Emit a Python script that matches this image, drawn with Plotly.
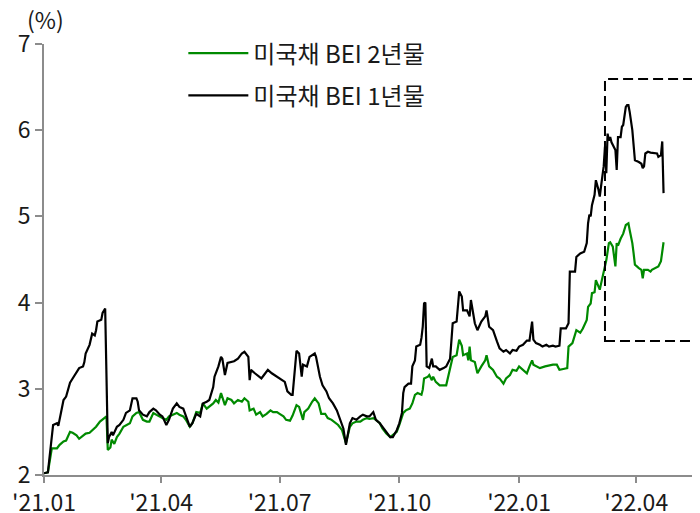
import plotly.graph_objects as go

# 미국채 BEI 1년물 (black)
bei1_dates = [
 "2021-01-01","2021-01-04","2021-01-05","2021-01-07","2021-01-08","2021-01-11","2021-01-12","2021-01-14","2021-01-16","2021-01-18",
 "2021-01-21","2021-01-23","2021-01-26","2021-01-28","2021-01-31","2021-02-01","2021-02-02","2021-02-05","2021-02-07","2021-02-09",
 "2021-02-10","2021-02-11","2021-02-14","2021-02-15","2021-02-17","2021-02-19","2021-02-20","2021-02-22","2021-02-23","2021-02-26",
 "2021-02-28","2021-03-03","2021-03-05","2021-03-08","2021-03-10","2021-03-13","2021-03-14","2021-03-15","2021-03-18","2021-03-21",
 "2021-03-23","2021-03-26","2021-03-28","2021-03-31","2021-04-02","2021-04-05","2021-04-07","2021-04-10","2021-04-13","2021-04-15",
 "2021-04-18","2021-04-20","2021-04-23","2021-04-25","2021-04-28","2021-05-01","2021-05-03","2021-05-06","2021-05-08","2021-05-11",
 "2021-05-12","2021-05-15","2021-05-17","2021-05-18","2021-05-20","2021-05-22","2021-05-25","2021-05-27","2021-05-30","2021-06-02",
 "2021-06-04","2021-06-07","2021-06-08","2021-06-09","2021-06-12","2021-06-14","2021-06-17","2021-06-19","2021-06-22","2021-06-25",
 "2021-06-27","2021-06-30","2021-07-02","2021-07-05","2021-07-07","2021-07-10","2021-07-11","2021-07-13","2021-07-14","2021-07-16",
 "2021-07-18","2021-07-19","2021-07-22","2021-07-24","2021-07-28","2021-07-29","2021-08-01","2021-08-03","2021-08-06","2021-08-08",
 "2021-08-11","2021-08-14","2021-08-16","2021-08-19","2021-08-21","2021-08-24","2021-08-26","2021-08-29","2021-09-01","2021-09-03",
 "2021-09-06","2021-09-08","2021-09-11","2021-09-12","2021-09-13","2021-09-16","2021-09-18","2021-09-21","2021-09-24","2021-09-26",
 "2021-09-29","2021-10-01","2021-10-03","2021-10-04","2021-10-05","2021-10-08","2021-10-10","2021-10-11","2021-10-13","2021-10-14",
 "2021-10-17","2021-10-18","2021-10-19","2021-10-20","2021-10-21","2021-10-22","2021-10-24","2021-10-26","2021-10-27","2021-10-29",
 "2021-11-01","2021-11-04","2021-11-06","2021-11-09","2021-11-10","2021-11-11","2021-11-14","2021-11-15","2021-11-16","2021-11-18",
 "2021-11-19","2021-11-22","2021-11-23","2021-11-24","2021-11-25","2021-11-27","2021-11-28","2021-11-30","2021-12-03","2021-12-06",
 "2021-12-07","2021-12-09","2021-12-12","2021-12-15","2021-12-17","2021-12-20","2021-12-22","2021-12-25","2021-12-27","2021-12-30",
 "2022-01-01","2022-01-04","2022-01-07","2022-01-09","2022-01-11","2022-01-12","2022-01-14","2022-01-17","2022-01-19","2022-01-22",
 "2022-01-24","2022-01-27","2022-01-29","2022-02-01","2022-02-02","2022-02-06","2022-02-08","2022-02-09","2022-02-13","2022-02-14",
 "2022-02-17","2022-02-20","2022-02-22","2022-02-23","2022-02-24","2022-02-25","2022-02-26","2022-02-28","2022-03-01","2022-03-03",
 "2022-03-04","2022-03-05","2022-03-07","2022-03-08","2022-03-09","2022-03-10","2022-03-11","2022-03-12","2022-03-13","2022-03-16",
 "2022-03-17","2022-03-18","2022-03-20","2022-03-21","2022-03-22","2022-03-24","2022-03-25","2022-03-26","2022-03-27","2022-03-29",
 "2022-03-30","2022-03-31","2022-04-03","2022-04-05","2022-04-06","2022-04-07","2022-04-08","2022-04-10","2022-04-12","2022-04-15",
 "2022-04-17","2022-04-18","2022-04-20","2022-04-21","2022-04-22",
]
bei1_values = [
 2.02,2.03,2.17,2.44,2.58,2.60,2.57,2.72,2.87,2.91,
 3.07,3.12,3.20,3.24,3.26,3.31,3.41,3.51,3.64,3.62,
 3.68,3.78,3.80,3.88,3.93,2.37,2.44,2.50,2.46,2.56,
 2.58,2.64,2.72,2.75,2.89,2.89,2.85,2.75,2.70,2.68,
 2.73,2.77,2.75,2.70,2.68,2.58,2.64,2.77,2.83,2.79,
 2.77,2.68,2.56,2.60,2.71,2.68,2.83,2.85,2.87,3.02,
 3.14,3.26,3.37,3.35,3.16,3.30,3.31,3.32,3.35,3.41,
 3.43,3.37,3.10,3.22,3.18,3.16,3.12,3.16,3.22,3.18,
 3.16,3.14,3.12,3.08,2.97,2.93,2.93,3.33,3.44,3.41,
 3.14,3.28,3.26,3.37,3.41,3.37,3.14,3.04,2.97,2.89,
 2.83,2.75,2.66,2.54,2.35,2.60,2.66,2.64,2.68,2.70,
 2.68,2.68,2.73,2.68,2.64,2.60,2.56,2.50,2.44,2.44,
 2.52,2.60,2.72,2.95,3.02,3.06,3.06,3.26,3.33,3.49,
 3.51,3.59,3.72,3.99,4.00,3.26,3.24,3.35,3.26,3.26,
 3.22,3.24,3.26,3.35,3.53,3.76,3.78,3.99,4.13,4.07,
 3.91,3.91,3.88,3.84,4.03,3.82,3.76,3.68,3.78,3.84,
 3.91,3.72,3.68,3.55,3.47,3.43,3.45,3.41,3.45,3.44,
 3.49,3.51,3.56,3.56,3.78,3.57,3.53,3.51,3.49,3.51,
 3.49,3.50,3.49,3.50,3.70,3.70,3.76,4.36,4.36,4.53,
 4.57,4.59,4.69,4.92,5.02,5.00,5.13,5.25,5.42,5.31,
 5.23,5.35,5.58,5.81,5.50,5.96,5.88,5.92,5.86,5.77,
 5.54,5.92,5.92,6.04,6.06,6.27,6.29,6.29,6.21,6.00,
 5.81,5.65,5.63,5.61,5.56,5.58,5.73,5.75,5.74,5.73,
 5.73,5.69,5.71,5.87,5.27,
]

# 미국채 BEI 2년물 (green)
bei2_dates = [
 "2021-01-01","2021-01-04","2021-01-07","2021-01-11","2021-01-13","2021-01-16","2021-01-18","2021-01-21","2021-01-23","2021-01-26",
 "2021-01-28","2021-01-31","2021-02-02","2021-02-05","2021-02-07","2021-02-10","2021-02-13","2021-02-15","2021-02-18","2021-02-19",
 "2021-02-21","2021-02-22","2021-02-24","2021-02-26","2021-02-28","2021-03-03","2021-03-05","2021-03-08","2021-03-10","2021-03-13",
 "2021-03-15","2021-03-18","2021-03-21","2021-03-23","2021-03-26","2021-03-28","2021-03-31","2021-04-02","2021-04-05","2021-04-07",
 "2021-04-10","2021-04-13","2021-04-15","2021-04-18","2021-04-20","2021-04-23","2021-04-25","2021-04-28","2021-05-01","2021-05-03",
 "2021-05-06","2021-05-08","2021-05-11","2021-05-13","2021-05-15","2021-05-17","2021-05-20","2021-05-22","2021-05-25","2021-05-27",
 "2021-05-30","2021-06-02","2021-06-04","2021-06-07","2021-06-08","2021-06-11","2021-06-13","2021-06-16","2021-06-18","2021-06-21",
 "2021-06-24","2021-06-26","2021-06-29","2021-07-01","2021-07-04","2021-07-06","2021-07-09","2021-07-11","2021-07-14","2021-07-16",
 "2021-07-19","2021-07-20","2021-07-23","2021-07-26","2021-07-28","2021-07-31","2021-08-02","2021-08-05","2021-08-07","2021-08-10",
 "2021-08-13","2021-08-15","2021-08-18","2021-08-21","2021-08-24","2021-08-26","2021-08-29","2021-09-01","2021-09-03","2021-09-06",
 "2021-09-08","2021-09-11","2021-09-13","2021-09-16","2021-09-18","2021-09-21","2021-09-24","2021-09-26","2021-09-29","2021-10-01",
 "2021-10-04","2021-10-06","2021-10-09","2021-10-11","2021-10-13","2021-10-15","2021-10-18","2021-10-19","2021-10-20","2021-10-23",
 "2021-10-24","2021-10-26","2021-10-27","2021-10-29","2021-11-01","2021-11-06","2021-11-09","2021-11-11","2021-11-14","2021-11-15",
 "2021-11-16","2021-11-18","2021-11-19","2021-11-22","2021-11-23","2021-11-24","2021-11-25","2021-11-28","2021-11-30","2021-12-03",
 "2021-12-06","2021-12-07","2021-12-09","2021-12-12","2021-12-15","2021-12-17","2021-12-20","2021-12-22","2021-12-25","2021-12-27",
 "2021-12-30","2022-01-01","2022-01-04","2022-01-07","2022-01-09","2022-01-11","2022-01-12","2022-01-14","2022-01-17","2022-01-21",
 "2022-01-24","2022-01-27","2022-01-30","2022-02-01","2022-02-04","2022-02-07","2022-02-08","2022-02-11","2022-02-14","2022-02-17",
 "2022-02-19","2022-02-20","2022-02-22","2022-02-23","2022-02-25","2022-02-26","2022-02-28","2022-03-01","2022-03-03","2022-03-04",
 "2022-03-05","2022-03-07","2022-03-08","2022-03-09","2022-03-11","2022-03-12","2022-03-14","2022-03-16","2022-03-17","2022-03-18",
 "2022-03-20","2022-03-22","2022-03-24","2022-03-26","2022-03-27","2022-03-29","2022-03-30","2022-03-31","2022-04-03","2022-04-05",
 "2022-04-06","2022-04-07","2022-04-10","2022-04-12","2022-04-13","2022-04-16","2022-04-18","2022-04-20","2022-04-22",
]
bei2_values = [
 2.02,2.03,2.31,2.31,2.35,2.39,2.40,2.50,2.49,2.46,
 2.42,2.45,2.48,2.49,2.52,2.56,2.62,2.64,2.68,2.29,
 2.32,2.41,2.36,2.44,2.48,2.56,2.58,2.60,2.68,2.72,
 2.73,2.64,2.62,2.62,2.72,2.70,2.68,2.66,2.64,2.68,
 2.70,2.72,2.70,2.68,2.64,2.56,2.60,2.73,2.72,2.83,
 2.77,2.79,2.83,2.87,2.84,2.95,2.81,2.89,2.87,2.83,
 2.87,2.85,2.89,2.85,2.75,2.77,2.70,2.73,2.68,2.71,
 2.75,2.73,2.73,2.71,2.68,2.64,2.63,2.69,2.81,2.79,
 2.64,2.73,2.77,2.85,2.89,2.83,2.71,2.71,2.66,2.64,
 2.60,2.58,2.52,2.37,2.56,2.60,2.62,2.62,2.64,2.66,
 2.65,2.66,2.64,2.60,2.54,2.48,2.44,2.46,2.50,2.58,
 2.72,2.75,2.77,2.83,2.93,2.95,2.93,2.99,3.12,3.14,
 3.16,3.10,3.14,3.08,3.04,3.04,3.26,3.37,3.39,3.51,
 3.57,3.50,3.39,3.41,3.33,3.49,3.33,3.31,3.18,3.26,
 3.33,3.39,3.26,3.22,3.14,3.12,3.06,3.12,3.16,3.22,
 3.21,3.26,3.22,3.18,3.26,3.33,3.28,3.26,3.24,3.26,
 3.27,3.28,3.28,3.22,3.23,3.24,3.49,3.53,3.68,3.65,
 3.70,3.73,3.80,3.95,3.99,4.11,4.12,4.26,4.19,4.15,
 4.22,4.36,4.44,4.49,4.69,4.70,4.65,4.42,4.69,4.66,
 4.74,4.80,4.90,4.92,4.84,4.69,4.57,4.44,4.40,4.38,
 4.28,4.38,4.38,4.36,4.38,4.40,4.42,4.48,4.70,
]

tick_vals = ["2021-01-01", "2021-04-01", "2021-07-01", "2021-10-01", "2022-01-01", "2022-04-01"]
tick_text = ["'21.01", "'21.04", "'21.07", "'21.10", "'22.01", "'22.04"]

FONT = "Noto Sans CJK KR"
AXIS_GRAY = "#8c8c8c"

fig = go.Figure()
fig.add_trace(go.Scatter(
    x=bei2_dates, y=bei2_values, mode="lines", name="미국채 BEI 2년물",
    line=dict(color="#008a00", width=2.2), legendgroup="g2",
))
fig.add_trace(go.Scatter(
    x=bei1_dates, y=bei1_values, mode="lines", name="미국채 BEI 1년물",
    line=dict(color="#000000", width=2.2), legendgroup="g1",
))

fig.add_shape(
    type="rect", xref="x", yref="y",
    x0="2022-03-08", x1="2022-05-18 12:00", y0=3.555, y1=6.594,
    line=dict(color="#000000", width=2, dash="10px,5px"),
    fillcolor="rgba(0,0,0,0)",
)

fig.add_annotation(
    xref="paper", yref="paper", x=-0.029, y=1.058,
    xanchor="left", yanchor="middle", text="(%)", showarrow=False,
    font=dict(family=FONT, size=23, color="#1a1a1a"),
)

# the page body has an 8px margin, so the figure is sized to fit the window
fig.update_layout(
    width=692, height=505,
    margin=dict(l=36, r=0, t=36, b=38, autoexpand=False),
    paper_bgcolor="white", plot_bgcolor="white",
    font=dict(family=FONT, color="#1a1a1a"),
    showlegend=True,
    legend=dict(
        x=0.2124, y=1.030, xanchor="left", yanchor="top",
        font=dict(family=FONT, size=24, color="#1a1a1a"),
        bgcolor="rgba(0,0,0,0)", tracegroupgap=8, itemwidth=60,
    ),
    xaxis=dict(
        type="date", range=["2021-01-01", "2022-05-20"], automargin=False,
        tickvals=tick_vals, ticktext=tick_text,
        showgrid=False, zeroline=False,
        showline=True, linecolor=AXIS_GRAY, linewidth=2,
        ticks="outside", ticklen=6, tickwidth=2, tickcolor=AXIS_GRAY,
        tickfont=dict(family=FONT, size=23, color="#1a1a1a"),
    ),
    yaxis=dict(
        range=[2, 7], tickvals=[2, 3, 4, 5, 6, 7], automargin=False,
        showgrid=False, zeroline=False,
        showline=True, linecolor=AXIS_GRAY, linewidth=2,
        ticks="outside", ticklen=7, tickwidth=2, tickcolor=AXIS_GRAY,
        tickfont=dict(family=FONT, size=23, color="#1a1a1a"),
    ),
)

fig.write_html("out.html")
